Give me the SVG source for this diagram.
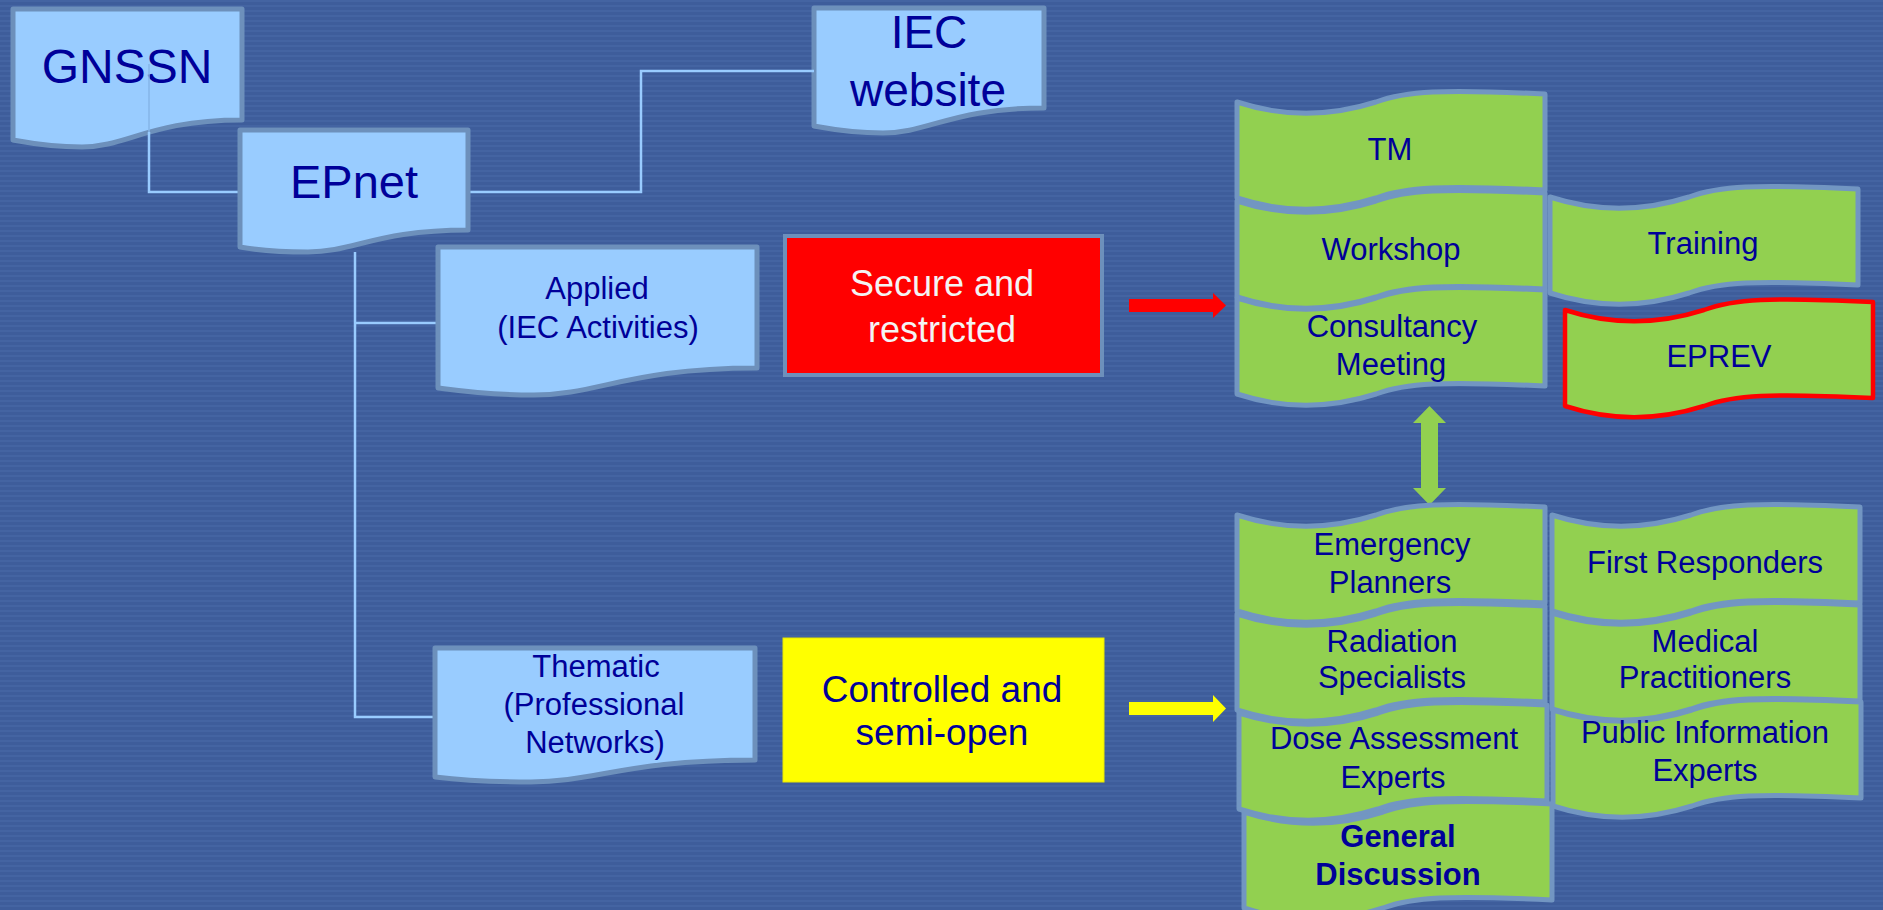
<svg xmlns="http://www.w3.org/2000/svg" xmlns:xlink="http://www.w3.org/1999/xlink" width="1883" height="910" viewBox="0 0 1883 910">
<defs>
<pattern id="bg" width="8" height="5" patternUnits="userSpaceOnUse">
<rect width="8" height="5" fill="#3e5d9b"/>
<rect y="0" width="8" height="2" fill="#4464a2"/>
</pattern>
<path id="tape" d="M0,0 C46,15 92,15 139,0 C168,-11 205,-13 308,-8 L308,88 C205,83 168,85 139,96 C92,111 46,111 0,96 Z"/>
</defs>
<style>
.doc{fill:#99ccff;stroke:#6d90bb;stroke-width:5;stroke-linejoin:round}
.g{fill:#92d050;stroke:#7296c2;stroke-width:5;stroke-linejoin:round}
.t{font-family:"Liberation Sans",Arial,sans-serif;fill:#000099;text-anchor:middle}
.w{fill:#f4f4f4}
.b{font-weight:bold}
.conn{fill:none;stroke:#99ccff;stroke-width:2.5}
</style>
<rect width="1883" height="910" fill="url(#bg)"/>

<g id="GNSSN">
<path class="doc" d="M13,9 H242 V120 C150,120 127,147 82,147 C48,147 24,142 13,140 Z"/>
<text class="t" x="127" y="83" font-size="48">GNSSN</text>
</g>
<g id="IEC-website">
<path class="doc" d="M814,8 H1044 V108 C952,108 929,133 883,133 C849,133 825,128 814,126 Z"/>
<text class="t" x="929" y="48" font-size="46">IEC</text>
<text class="t" x="928" y="106" font-size="46">website</text>
</g>

<g id="connectors">
<path fill="none" stroke="#86b6e8" stroke-width="1.5" d="M149,64 V132"/>
<path class="conn" d="M149,132 V192 H240"/>
<path class="conn" d="M468,192 H641 V71 H814"/>
<path class="conn" d="M355,252 V717 H435"/>
<path class="conn" d="M355,323 H438"/>
</g>

<g id="EPnet">
<path class="doc" d="M240,130 H468 V230 C377,230 354,252 308,252 C274,252 251,249 240,247 Z"/>
<text class="t" x="354" y="198" font-size="47">EPnet</text>
</g>
<g id="Applied">
<path class="doc" d="M438,247 H757 V368 C630,368 598,395 534,395 C486,395 454,390 438,388 Z"/>
<text class="t" x="597" y="299" font-size="31">Applied</text>
<text class="t" x="598" y="338" font-size="31">(IEC Activities)</text>
</g>
<g id="Thematic">
<path class="doc" d="M435,648 H755 V760 C627,760 595,782 531,782 C483,782 451,779 435,777 Z"/>
<text class="t" x="596" y="677" font-size="31">Thematic</text>
<text class="t" x="594" y="715" font-size="31">(Professional</text>
<text class="t" x="595" y="753" font-size="31">Networks)</text>
</g>
<g id="Secure">
<rect x="785" y="236" width="317" height="139" fill="#ff0000" stroke="#6d90bb" stroke-width="4"/>
<text class="t w" x="942" y="296" font-size="36">Secure and</text>
<text class="t w" x="942" y="342" font-size="36">restricted</text>
</g>
<g id="Controlled">
<rect x="783" y="638" width="321" height="144" fill="#ffff00" stroke="#e8e800" stroke-width="1"/>
<text class="t" x="942" y="702" font-size="37">Controlled and</text>
<text class="t" x="942" y="745" font-size="37">semi-open</text>
</g>

<g id="arrows">
<polygon fill="#ff0000" points="1129,299 1213,299 1213,293 1226,305.5 1213,318 1213,312 1129,312"/>
<polygon fill="#ffff00" points="1129,702 1213,702 1213,695 1226,708.5 1213,722 1213,715 1129,715"/>
<polygon fill="#92d050" points="1429.5,406 1446,423 1438,423 1438,488 1446,488 1429.5,505 1413,488 1421,488 1421,423 1413,423"/>
</g>

<g id="TM"><use href="#tape" class="g" x="1237" y="102"/><text class="t" x="1390" y="160" font-size="31">TM</text></g>
<g id="Workshop"><use href="#tape" class="g" x="1237" y="201"/><text class="t" x="1391" y="260" font-size="31">Workshop</text></g>
<g id="Consultancy"><use href="#tape" class="g" x="1237" y="298"/><text class="t" x="1392" y="337" font-size="31">Consultancy</text><text class="t" x="1391" y="375" font-size="31">Meeting</text></g>
<g id="Training"><use href="#tape" class="g" x="1550" y="197"/><text class="t" x="1703" y="254" font-size="31">Training</text></g>
<g id="EPREV"><use href="#tape" class="g" x="1565" y="310" style="stroke:#ff0000;stroke-width:4.5"/><text class="t" x="1719" y="367" font-size="31">EPREV</text></g>

<g id="Emergency"><use href="#tape" class="g" x="1237" y="515"/><text class="t" x="1392" y="555" font-size="31">Emergency</text><text class="t" x="1390" y="593" font-size="31">Planners</text></g>
<g id="Radiation"><use href="#tape" class="g" x="1237" y="614"/><text class="t" x="1392" y="652" font-size="31">Radiation</text><text class="t" x="1392" y="688" font-size="31">Specialists</text></g>
<g id="Dose"><use href="#tape" class="g" x="1239" y="713"/><text class="t" x="1394" y="749" font-size="31">Dose Assessment</text><text class="t" x="1393" y="788" font-size="31">Experts</text></g>
<g id="General"><use href="#tape" class="g" x="1244" y="812"/><text class="t b" x="1398" y="847" font-size="31">General</text><text class="t b" x="1398" y="885" font-size="31">Discussion</text></g>
<g id="FirstResponders"><use href="#tape" class="g" x="1552" y="515"/><text class="t" x="1705" y="573" font-size="31">First Responders</text></g>
<g id="Medical"><use href="#tape" class="g" x="1552" y="613"/><text class="t" x="1705" y="652" font-size="31">Medical</text><text class="t" x="1705" y="688" font-size="31">Practitioners</text></g>
<g id="Public"><use href="#tape" class="g" x="1553" y="710"/><text class="t" x="1705" y="743" font-size="31">Public Information</text><text class="t" x="1705" y="781" font-size="31">Experts</text></g>
</svg>
